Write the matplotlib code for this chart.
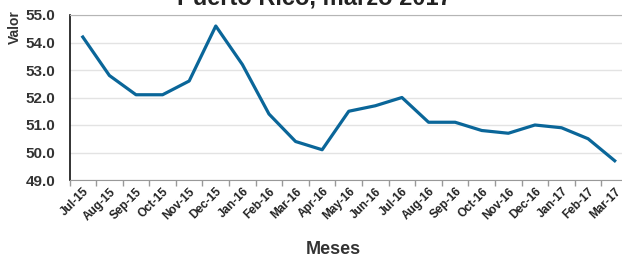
import matplotlib.pyplot as plt
import numpy as np

plt.rcParams['font.family'] = ['Liberation Sans', 'DejaVu Sans']

meses = ['Jul-15', 'Aug-15', 'Sep-15', 'Oct-15', 'Nov-15', 'Dec-15', 'Jan-16',
         'Feb-16', 'Mar-16', 'Apr-16', 'May-16', 'Jun-16', 'Jul-16', 'Aug-16',
         'Sep-16', 'Oct-16', 'Nov-16', 'Dec-16', 'Jan-17', 'Feb-17', 'Mar-17']
valores = [54.2, 52.8, 52.1, 52.1, 52.6, 54.6, 53.2, 51.4, 50.4, 50.1, 51.5,
           51.7, 52.0, 51.1, 51.1, 50.8, 50.7, 51.0, 50.9, 50.5, 49.7]

fig = plt.figure(figsize=(6.22, 2.58), dpi=100)
# axes run slightly past the right edge, as in the cropped original
ax = fig.add_axes([69.5 / 622, 1 - 180 / 258, 558.5 / 622, 165 / 258])

x = np.arange(len(meses))
ax.plot(x, valores, color='#0a6699', linewidth=2.3, solid_joinstyle='round')

ax.set_xlim(-0.5, len(meses) - 0.5)
ax.set_ylim(49, 55)
ax.set_yticks(np.arange(49, 55.1, 1))
ax.set_yticklabels([f'{v:.1f}' for v in np.arange(49, 55.1, 1)],
                   fontsize=11, fontweight='bold', color='#333333')
ax.tick_params(axis='y', length=0, pad=10)

ax.set_xticks(x)
ax.set_xticklabels(meses, rotation=45, ha='right', rotation_mode='anchor',
                   fontsize=8.5, fontweight='bold', color='#222222')
ax.tick_params(axis='x', which='major', length=0, pad=4)
ax.set_xticks(np.arange(-0.5, len(meses), 1), minor=True)
ax.tick_params(axis='x', which='minor', length=4, color='#999999', width=1)

ax.grid(axis='y', color='#e3e3e3', linewidth=1)
ax.set_axisbelow(True)
ax.spines['left'].set_color('#111111')
ax.spines['left'].set_linewidth(1.2)
ax.spines['bottom'].set_color('#999999')
ax.spines['top'].set_color('#b5b5b5')
ax.spines['right'].set_visible(False)

fig.text(314 / 622, 1 - 4.5 / 258, 'Puerto Rico, marzo 2017', ha='center',
         va='baseline', fontsize=17, fontweight='bold', color='#222222')
fig.text(15 / 622, 1 - 27 / 258, 'Valor', rotation=90, ha='center',
         va='center', fontsize=10, fontweight='bold', color='#333333')
fig.text(333 / 622, 1 - 250 / 258, 'Meses', ha='center', va='center',
         fontsize=13, fontweight='bold', color='#333333')

fig.savefig('out.png', dpi=100)
